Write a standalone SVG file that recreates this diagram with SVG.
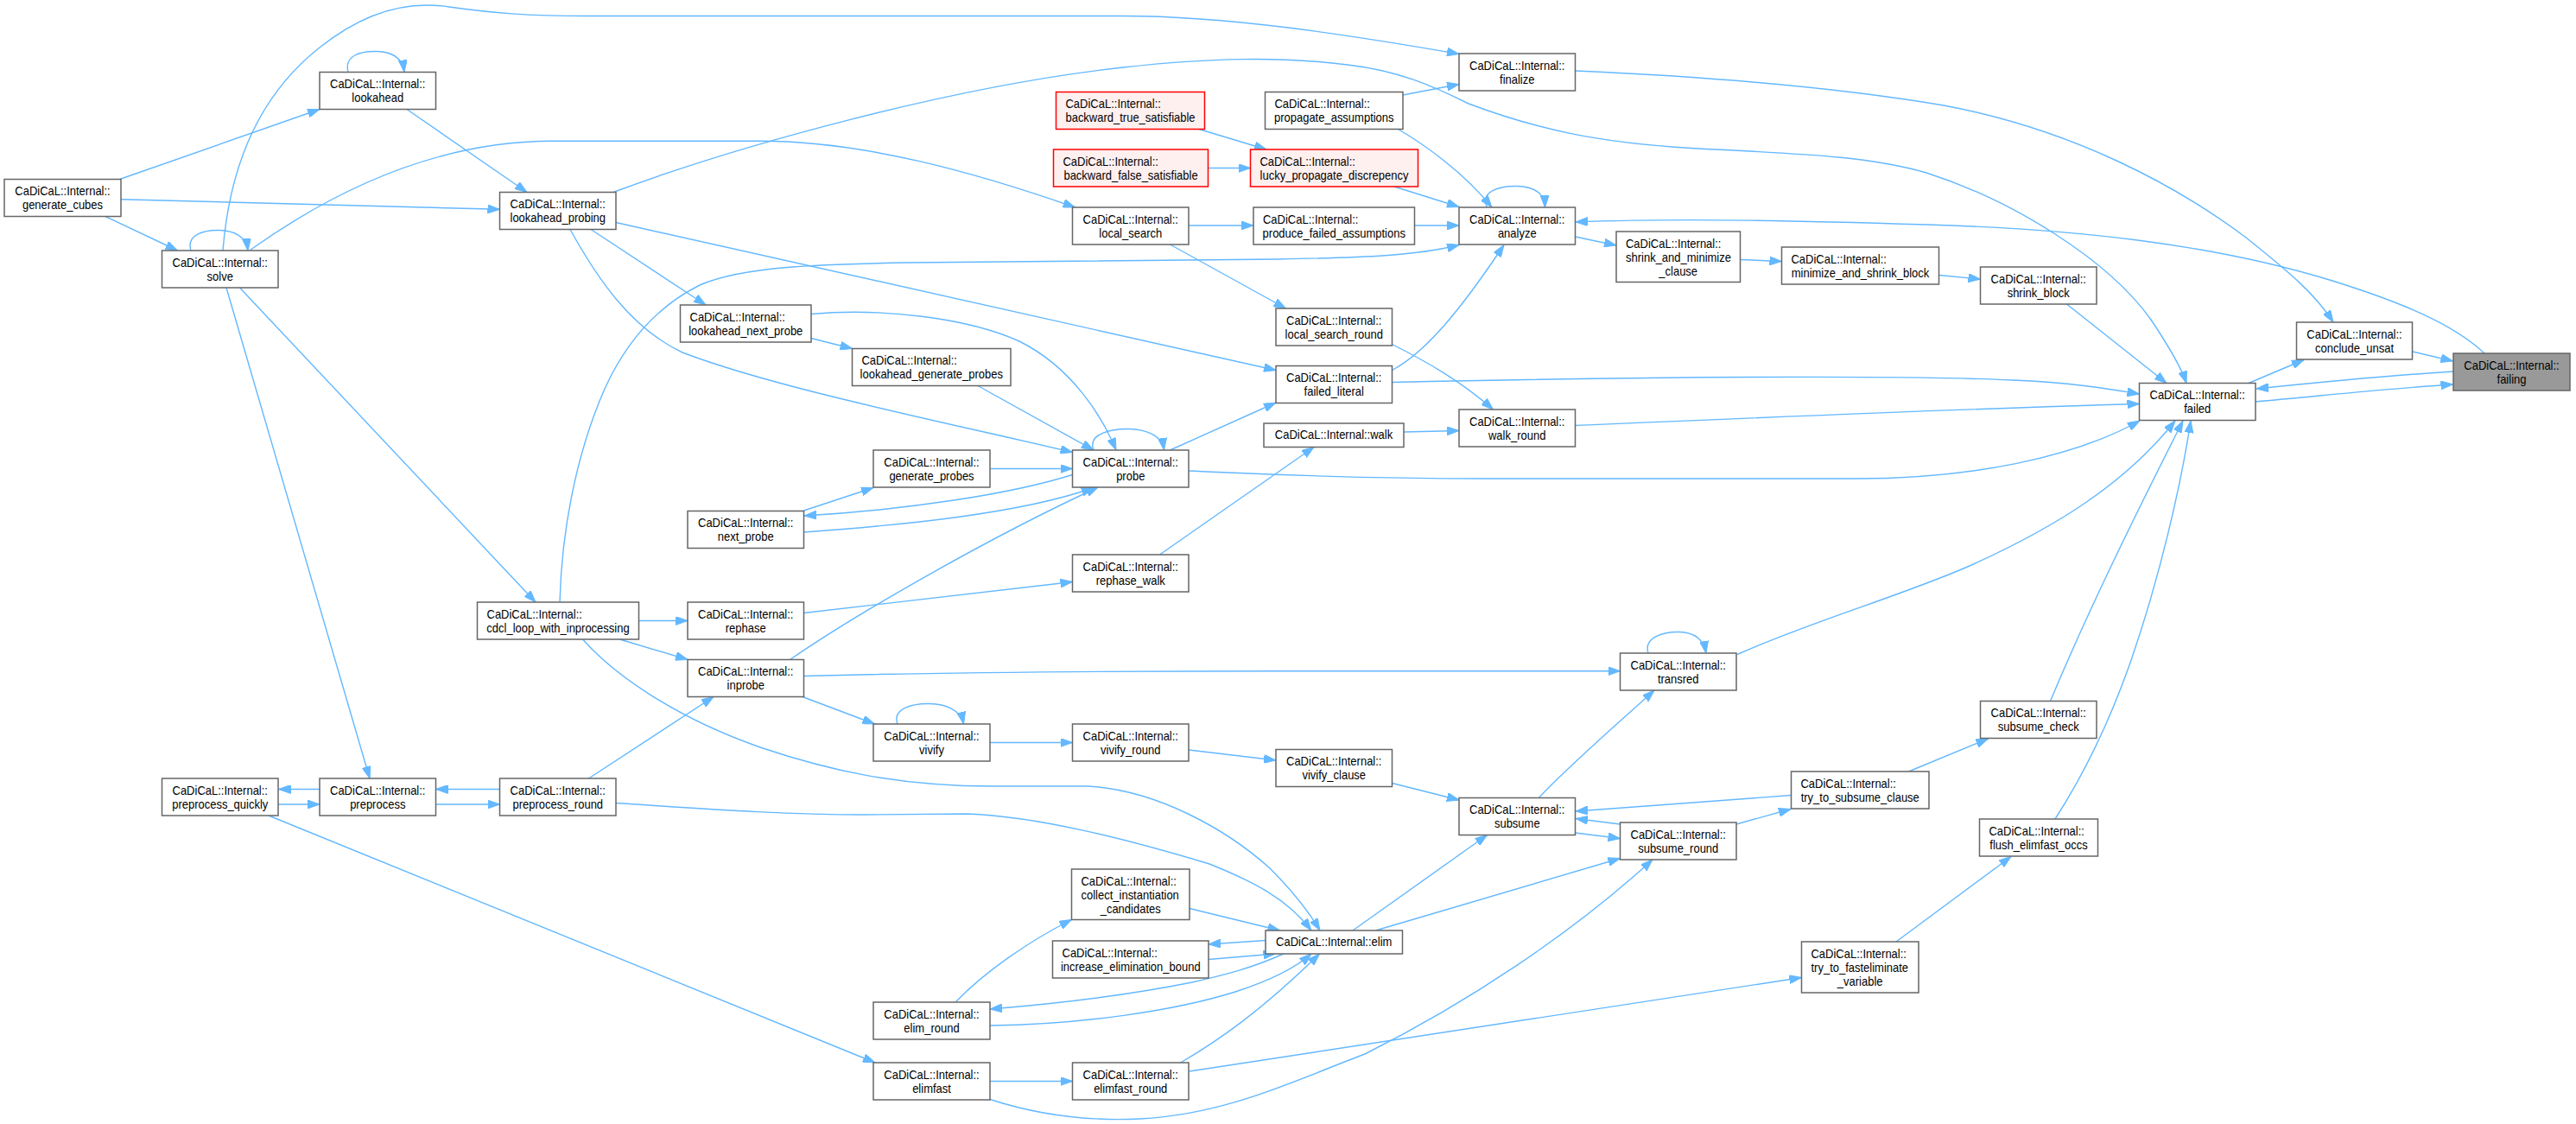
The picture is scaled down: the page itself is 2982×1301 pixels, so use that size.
<svg xmlns="http://www.w3.org/2000/svg" width="2982" height="1301" viewBox="0 0 2982 1301">
<style>
.node rect{fill:#ffffff;stroke:#666666;stroke-width:1.5}
.red rect{fill:#fff0f0;stroke:#ff0000}
.focus rect{fill:#999999;stroke:#666666}
text{font-family:"Liberation Sans",Arial,sans-serif;font-size:14.6px;fill:#000000;transform-box:fill-box;transform:scaleX(0.89);transform-origin:center}
.m{text-anchor:middle}
.s{transform-origin:left center}
#edges path{fill:none;stroke:#63b8ff;stroke-width:1.4;marker-end:url(#ah)}
</style>
<defs>
<marker id="ah" viewBox="0 0 14 10" refX="14" refY="5" markerWidth="14" markerHeight="10" markerUnits="userSpaceOnUse" orient="auto"><path d="M0,0 L14,5 L0,10 Z" fill="#63b8ff" stroke="#63b8ff" stroke-width="1"/></marker>
</defs>
<rect width="2982" height="1301" fill="#ffffff"/>
<g id="edges">
<path d="M138.5,207.5 L370,126.5"/>
<path d="M403,83.5 C398,64 418,59 436,59.5 C454,60 466,67 468,83.5"/>
<path d="M140,230.7 L578.5,242.3"/>
<path d="M122,250.5 L205.5,290"/>
<path d="M221,290 C215,271 238,266 254,266.5 C270,267 285,273 287,290"/>
<path d="M471,126.5 L610,222.5"/>
<path d="M258,290 C266,190 300,110 370,55 C420,15 470,0 520,8 C570,15 610,18.5 680,18.5 L1300,18.5 C1420,18.5 1560,40 1689,62.5"/>
<path d="M289.5,289.5 C380,225 500,163.3 640,163.3 L880,163.3 C1000,163.3 1130,200 1244.5,240"/>
<path d="M710,222.5 C850,170 1100,100 1300,78 C1400,67 1480,65 1560,75 C1620,82 1660,100 1700,120 C1780,150 1850,165 1958,171.5 C2080,178 2160,180 2230,200 C2330,232 2440,300 2490,370 C2510,400 2525,425 2531,443.5"/>
<path d="M1823.5,82 C1960,88 2120,100 2250,122 C2400,150 2520,215 2600,275 C2650,315 2680,340 2701,373"/>
<path d="M2876,409 C2840,375 2780,350 2700,325 C2560,282 2400,265 2230,260 C2100,256 1950,252 1824,257"/>
<path d="M2793,407 L2839.5,418"/>
<path d="M2603,443.5 L2667,416.5"/>
<path d="M2840,430 C2760,435 2680,443 2612,450"/>
<path d="M2611,465 C2690,458 2760,450 2839.5,445"/>
<path d="M2392.5,352 L2508,443.5"/>
<path d="M2244.5,318.5 L2292.5,323"/>
<path d="M2014.5,300.5 L2062.5,302.5"/>
<path d="M1823.5,274 L1871,284"/>
<path d="M1721.5,240 C1712,221 1738,215 1756,215.5 C1775,216 1788,223 1788.5,240"/>
<path d="M1618.5,149.5 C1650,168 1695,200 1727,240"/>
<path d="M1624,110 L1689,97.5"/>
<path d="M1614,216 L1689,239.5"/>
<path d="M1637.5,261 L1689,261"/>
<path d="M648,697 C650,620 665,530 700,450 C725,395 760,355 810,330 C860,308 950,306 1050,304 L1480,300 C1580,298 1640,296 1689,283.5"/>
<path d="M1611.5,398.5 C1650,418 1690,440 1728.5,474"/>
<path d="M1611.5,428.5 C1650,408 1690,360 1741,283.5"/>
<path d="M1611.5,442.5 C1900,436 2200,434 2330,440 C2400,443 2440,450 2476.5,456"/>
<path d="M1823.5,492.5 C2000,485 2300,472 2476.5,467.5"/>
<path d="M1625,500 L1689,498.5"/>
<path d="M1342.5,642 L1521,517.5"/>
<path d="M1376,545 C1450,548 1550,554 1719,554 L2150,554 C2280,554 2400,530 2477,487"/>
<path d="M2011,757.5 C2100,718 2200,690 2280,655 C2380,610 2460,560 2518,487"/>
<path d="M930.5,782.5 C1100,778 1300,776.7 1480,776.7 L1875.5,776.7"/>
<path d="M1781.5,923.5 C1810,892 1870,840 1915,799"/>
<path d="M2373.5,811.5 C2420,700 2480,580 2527,487"/>
<path d="M2209.5,893 L2301.5,855"/>
<path d="M2379,948 C2410,900 2440,840 2465,770 C2500,670 2525,560 2536,487"/>
<path d="M2195,1090 L2328,991.5"/>
<path d="M1132,446.5 L1266,521"/>
<path d="M713,257.5 L1477,428.5"/>
<path d="M684,265.5 L817,353"/>
<path d="M660,265.5 C690,320 730,380 790,408 C900,450 1100,490 1241.5,523.5"/>
<path d="M1241.5,549.5 C1170,572 1050,590 931,597"/>
<path d="M930.5,616 C1040,608 1180,595 1266,564.5"/>
<path d="M930.5,591 L1011,564.5"/>
<path d="M1146,542.5 L1241.5,542.5"/>
<path d="M1266,521 C1258,501 1290,496 1307,496.5 C1325,497 1345,503 1347.5,521"/>
<path d="M1354.5,283 L1488.5,357"/>
<path d="M939,391.5 L986.5,403.5"/>
<path d="M939,363.5 C1020,356 1120,368 1180,395 C1240,425 1275,480 1292,521"/>
<path d="M1354.5,521 L1477,466"/>
<path d="M914.5,763.5 C1000,705 1150,620 1271,564"/>
<path d="M930.5,709.5 L1241.5,673.5"/>
<path d="M739.5,718.5 L796,718.5"/>
<path d="M717.5,740 L796,763.5"/>
<path d="M929,806.5 L1012.5,838"/>
<path d="M1039,838 C1032,819 1060,814 1076,814.5 C1094,815 1112,821 1115.5,838"/>
<path d="M1146,859.5 L1241.5,859.5"/>
<path d="M681.5,901 L826,806.5"/>
<path d="M674.5,740 C710,780 780,830 880,865 C960,892 1040,910 1150,910 L1260,910 C1340,915 1420,960 1470,1005 C1500,1035 1515,1055 1528,1077"/>
<path d="M713,929.5 C800,935 900,943 1000,943 L1120,942 C1200,945 1300,970 1400,1000 C1450,1020 1490,1040 1518,1077"/>
<path d="M277.5,333 L620,697"/>
<path d="M262,333 L428,901"/>
<path d="M370,913.5 L322.5,913.5"/>
<path d="M322,931 L370,931"/>
<path d="M578.5,913.5 L504.5,913.5"/>
<path d="M504.5,931 L578.5,931"/>
<path d="M311,944 L1013,1230"/>
<path d="M1146,1251.5 L1241.5,1251.5"/>
<path d="M1146,1272.5 C1200,1290 1260,1298 1320,1295 C1420,1290 1500,1250 1580,1220 C1700,1160 1820,1080 1913,995"/>
<path d="M1366.5,1230 C1410,1205 1460,1170 1527.5,1104"/>
<path d="M1377,1240 L2085.5,1131.5"/>
<path d="M1106,1160 C1140,1125 1190,1090 1240.5,1064.5"/>
<path d="M1377,1051.5 L1481.5,1077"/>
<path d="M1465,1088.5 L1399,1093"/>
<path d="M1399,1110.5 L1476.5,1104"/>
<path d="M1486,1104 C1450,1120 1420,1128 1380,1137 C1300,1153 1220,1162 1146,1168"/>
<path d="M1146,1187 C1250,1186 1360,1170 1430,1148 C1470,1135 1500,1120 1518,1104"/>
<path d="M1566,1077 L1721.5,966.5"/>
<path d="M1592.5,1077 L1875.5,993.5"/>
<path d="M1611.5,906.5 L1689,926"/>
<path d="M1376,868 L1477,880"/>
<path d="M2073.5,920.5 L1824,939"/>
<path d="M1875.5,954 L1824,947.5"/>
<path d="M1823.5,964 L1875.5,970.5"/>
<path d="M2010,954 L2073,936.5"/>
<path d="M1388,149.5 L1466,173"/>
<path d="M1398.5,194.5 L1447.5,194.5"/>
<path d="M1376,261 L1451,261"/>
<path d="M1908,756 C1902,737 1928,731 1944,731.5 C1960,732 1972,739 1975,756"/>
</g>
<g id="n_generate_cubes" class="node"><rect x="5" y="207.5" width="135" height="43"/><text class="m" x="72.5" y="226.5">CaDiCaL::Internal::</text><text class="m" x="72.5" y="242.5">generate_cubes</text></g>
<g id="n_lookahead" class="node"><rect x="370" y="83.5" width="134.5" height="43"/><text class="m" x="437.25" y="102.5">CaDiCaL::Internal::</text><text class="m" x="437.25" y="118.5">lookahead</text></g>
<g id="n_solve" class="node"><rect x="187.5" y="290" width="134.5" height="43"/><text class="m" x="254.75" y="309">CaDiCaL::Internal::</text><text class="m" x="254.75" y="325">solve</text></g>
<g id="n_lookahead_probing" class="node"><rect x="578.5" y="222.5" width="134.5" height="43"/><text class="m" x="645.75" y="241.5">CaDiCaL::Internal::</text><text class="m" x="645.75" y="257.5">lookahead_probing</text></g>
<g id="n_finalize" class="node"><rect x="1689" y="62" width="134.5" height="43"/><text class="m" x="1756.25" y="81">CaDiCaL::Internal::</text><text class="m" x="1756.25" y="97">finalize</text></g>
<g id="n_propagate_assumptions" class="node"><rect x="1464.5" y="106.5" width="159.5" height="43"/><text class="s" x="1475.5" y="125.5">CaDiCaL::Internal::</text><text class="m" x="1544.25" y="141.5">propagate_assumptions</text></g>
<g id="n_backward_true_satisfiable" class="node red"><rect x="1222.5" y="106.5" width="172" height="43"/><text class="s" x="1233.5" y="125.5">CaDiCaL::Internal::</text><text class="m" x="1308.5" y="141.5">backward_true_satisfiable</text></g>
<g id="n_backward_false_satisfiable" class="node red"><rect x="1219.5" y="173" width="179" height="43"/><text class="s" x="1230.5" y="192">CaDiCaL::Internal::</text><text class="m" x="1309" y="208">backward_false_satisfiable</text></g>
<g id="n_lucky_propagate_discrepency" class="node red"><rect x="1447.5" y="173" width="194" height="43"/><text class="s" x="1458.5" y="192">CaDiCaL::Internal::</text><text class="m" x="1544.5" y="208">lucky_propagate_discrepency</text></g>
<g id="n_local_search" class="node"><rect x="1241.5" y="240" width="134.5" height="43"/><text class="m" x="1308.75" y="259">CaDiCaL::Internal::</text><text class="m" x="1308.75" y="275">local_search</text></g>
<g id="n_produce_failed_assumptions" class="node"><rect x="1451" y="240" width="186.5" height="43"/><text class="s" x="1462" y="259">CaDiCaL::Internal::</text><text class="m" x="1544.25" y="275">produce_failed_assumptions</text></g>
<g id="n_analyze" class="node"><rect x="1689" y="240" width="134.5" height="43"/><text class="m" x="1756.25" y="259">CaDiCaL::Internal::</text><text class="m" x="1756.25" y="275">analyze</text></g>
<g id="n_shrink_and_minimize_clause" class="node"><rect x="1871" y="268" width="143.5" height="58.5"/><text class="s" x="1882" y="287">CaDiCaL::Internal::</text><text class="s" x="1882" y="303">shrink_and_minimize</text><text class="m" x="1942.75" y="319">_clause</text></g>
<g id="n_minimize_and_shrink_block" class="node"><rect x="2062.5" y="286" width="182" height="43"/><text class="s" x="2073.5" y="305">CaDiCaL::Internal::</text><text class="m" x="2153.5" y="321">minimize_and_shrink_block</text></g>
<g id="n_shrink_block" class="node"><rect x="2292.5" y="309" width="134.5" height="43"/><text class="m" x="2359.75" y="328">CaDiCaL::Internal::</text><text class="m" x="2359.75" y="344">shrink_block</text></g>
<g id="n_conclude_unsat" class="node"><rect x="2658.5" y="373" width="134" height="43"/><text class="m" x="2725.5" y="392">CaDiCaL::Internal::</text><text class="m" x="2725.5" y="408">conclude_unsat</text></g>
<g id="n_failing" class="node focus"><rect x="2840" y="409" width="135" height="43"/><text class="m" x="2907.5" y="428">CaDiCaL::Internal::</text><text class="m" x="2907.5" y="444">failing</text></g>
<g id="n_failed" class="node"><rect x="2476.5" y="443.5" width="134.5" height="43"/><text class="m" x="2543.75" y="462.5">CaDiCaL::Internal::</text><text class="m" x="2543.75" y="478.5">failed</text></g>
<g id="n_lookahead_next_probe" class="node"><rect x="787.5" y="353" width="151.5" height="43"/><text class="s" x="798.5" y="372">CaDiCaL::Internal::</text><text class="m" x="863.25" y="388">lookahead_next_probe</text></g>
<g id="n_lookahead_generate_probes" class="node"><rect x="986.5" y="403.5" width="183.5" height="43"/><text class="s" x="997.5" y="422.5">CaDiCaL::Internal::</text><text class="m" x="1078.25" y="438.5">lookahead_generate_probes</text></g>
<g id="n_local_search_round" class="node"><rect x="1477" y="357" width="134.5" height="43"/><text class="m" x="1544.25" y="376">CaDiCaL::Internal::</text><text class="m" x="1544.25" y="392">local_search_round</text></g>
<g id="n_failed_literal" class="node"><rect x="1477" y="423.5" width="134.5" height="43"/><text class="m" x="1544.25" y="442.5">CaDiCaL::Internal::</text><text class="m" x="1544.25" y="458.5">failed_literal</text></g>
<g id="n_walk" class="node"><rect x="1463" y="490" width="162" height="27.5"/><text class="m" x="1544" y="508.5">CaDiCaL::Internal::walk</text></g>
<g id="n_walk_round" class="node"><rect x="1689" y="474" width="134.5" height="43"/><text class="m" x="1756.25" y="493">CaDiCaL::Internal::</text><text class="m" x="1756.25" y="509">walk_round</text></g>
<g id="n_probe" class="node"><rect x="1241.5" y="521" width="134.5" height="43"/><text class="m" x="1308.75" y="540">CaDiCaL::Internal::</text><text class="m" x="1308.75" y="556">probe</text></g>
<g id="n_generate_probes" class="node"><rect x="1011" y="521" width="135" height="43"/><text class="m" x="1078.5" y="540">CaDiCaL::Internal::</text><text class="m" x="1078.5" y="556">generate_probes</text></g>
<g id="n_next_probe" class="node"><rect x="796" y="591.5" width="134.5" height="43"/><text class="m" x="863.25" y="610.5">CaDiCaL::Internal::</text><text class="m" x="863.25" y="626.5">next_probe</text></g>
<g id="n_rephase_walk" class="node"><rect x="1241.5" y="642" width="134.5" height="43"/><text class="m" x="1308.75" y="661">CaDiCaL::Internal::</text><text class="m" x="1308.75" y="677">rephase_walk</text></g>
<g id="n_cdcl_loop_with_inprocessing" class="node"><rect x="552.5" y="697" width="187" height="43"/><text class="s" x="563.5" y="716">CaDiCaL::Internal::</text><text class="m" x="646" y="732">cdcl_loop_with_inprocessing</text></g>
<g id="n_rephase" class="node"><rect x="796" y="697" width="134.5" height="43"/><text class="m" x="863.25" y="716">CaDiCaL::Internal::</text><text class="m" x="863.25" y="732">rephase</text></g>
<g id="n_inprobe" class="node"><rect x="796" y="763.5" width="134.5" height="43"/><text class="m" x="863.25" y="782.5">CaDiCaL::Internal::</text><text class="m" x="863.25" y="798.5">inprobe</text></g>
<g id="n_transred" class="node"><rect x="1875.5" y="756" width="134.5" height="43"/><text class="m" x="1942.75" y="775">CaDiCaL::Internal::</text><text class="m" x="1942.75" y="791">transred</text></g>
<g id="n_vivify" class="node"><rect x="1011" y="838" width="135" height="43"/><text class="m" x="1078.5" y="857">CaDiCaL::Internal::</text><text class="m" x="1078.5" y="873">vivify</text></g>
<g id="n_vivify_round" class="node"><rect x="1241.5" y="838" width="134.5" height="43"/><text class="m" x="1308.75" y="857">CaDiCaL::Internal::</text><text class="m" x="1308.75" y="873">vivify_round</text></g>
<g id="n_vivify_clause" class="node"><rect x="1477" y="867.5" width="134.5" height="43"/><text class="m" x="1544.25" y="886.5">CaDiCaL::Internal::</text><text class="m" x="1544.25" y="902.5">vivify_clause</text></g>
<g id="n_subsume" class="node"><rect x="1689" y="923.5" width="134.5" height="43"/><text class="m" x="1756.25" y="942.5">CaDiCaL::Internal::</text><text class="m" x="1756.25" y="958.5">subsume</text></g>
<g id="n_try_to_subsume_clause" class="node"><rect x="2073.5" y="893" width="159.5" height="43"/><text class="s" x="2084.5" y="912">CaDiCaL::Internal::</text><text class="m" x="2153.25" y="928">try_to_subsume_clause</text></g>
<g id="n_subsume_check" class="node"><rect x="2292.5" y="811.5" width="134.5" height="43"/><text class="m" x="2359.75" y="830.5">CaDiCaL::Internal::</text><text class="m" x="2359.75" y="846.5">subsume_check</text></g>
<g id="n_subsume_round" class="node"><rect x="1875.5" y="952" width="134.5" height="43"/><text class="m" x="1942.75" y="971">CaDiCaL::Internal::</text><text class="m" x="1942.75" y="987">subsume_round</text></g>
<g id="n_flush_elimfast_occs" class="node"><rect x="2291.5" y="948" width="137" height="43"/><text class="s" x="2302.5" y="967">CaDiCaL::Internal::</text><text class="m" x="2360" y="983">flush_elimfast_occs</text></g>
<g id="n_preprocess_quickly" class="node"><rect x="187.5" y="901" width="134.5" height="43"/><text class="m" x="254.75" y="920">CaDiCaL::Internal::</text><text class="m" x="254.75" y="936">preprocess_quickly</text></g>
<g id="n_preprocess" class="node"><rect x="370" y="901" width="134.5" height="43"/><text class="m" x="437.25" y="920">CaDiCaL::Internal::</text><text class="m" x="437.25" y="936">preprocess</text></g>
<g id="n_preprocess_round" class="node"><rect x="578.5" y="901" width="134.5" height="43"/><text class="m" x="645.75" y="920">CaDiCaL::Internal::</text><text class="m" x="645.75" y="936">preprocess_round</text></g>
<g id="n_collect_instantiation_candidates" class="node"><rect x="1240.5" y="1006" width="136.5" height="58.5"/><text class="s" x="1251.5" y="1025">CaDiCaL::Internal::</text><text class="s" x="1251.5" y="1041">collect_instantiation</text><text class="m" x="1308.75" y="1057">_candidates</text></g>
<g id="n_increase_elimination_bound" class="node"><rect x="1218.5" y="1089" width="180.5" height="43"/><text class="s" x="1229.5" y="1108">CaDiCaL::Internal::</text><text class="m" x="1308.75" y="1124">increase_elimination_bound</text></g>
<g id="n_elim" class="node"><rect x="1465" y="1077" width="158.5" height="27"/><text class="m" x="1544.25" y="1095.5">CaDiCaL::Internal::elim</text></g>
<g id="n_elim_round" class="node"><rect x="1011" y="1160" width="135" height="43"/><text class="m" x="1078.5" y="1179">CaDiCaL::Internal::</text><text class="m" x="1078.5" y="1195">elim_round</text></g>
<g id="n_try_to_fasteliminate_variable" class="node"><rect x="2085.5" y="1090" width="135.5" height="59"/><text class="s" x="2096.5" y="1109">CaDiCaL::Internal::</text><text class="s" x="2096.5" y="1125">try_to_fasteliminate</text><text class="m" x="2153.25" y="1141">_variable</text></g>
<g id="n_elimfast" class="node"><rect x="1011" y="1230" width="135" height="43"/><text class="m" x="1078.5" y="1249">CaDiCaL::Internal::</text><text class="m" x="1078.5" y="1265">elimfast</text></g>
<g id="n_elimfast_round" class="node"><rect x="1241.5" y="1230" width="134.5" height="43"/><text class="m" x="1308.75" y="1249">CaDiCaL::Internal::</text><text class="m" x="1308.75" y="1265">elimfast_round</text></g>
</svg>
